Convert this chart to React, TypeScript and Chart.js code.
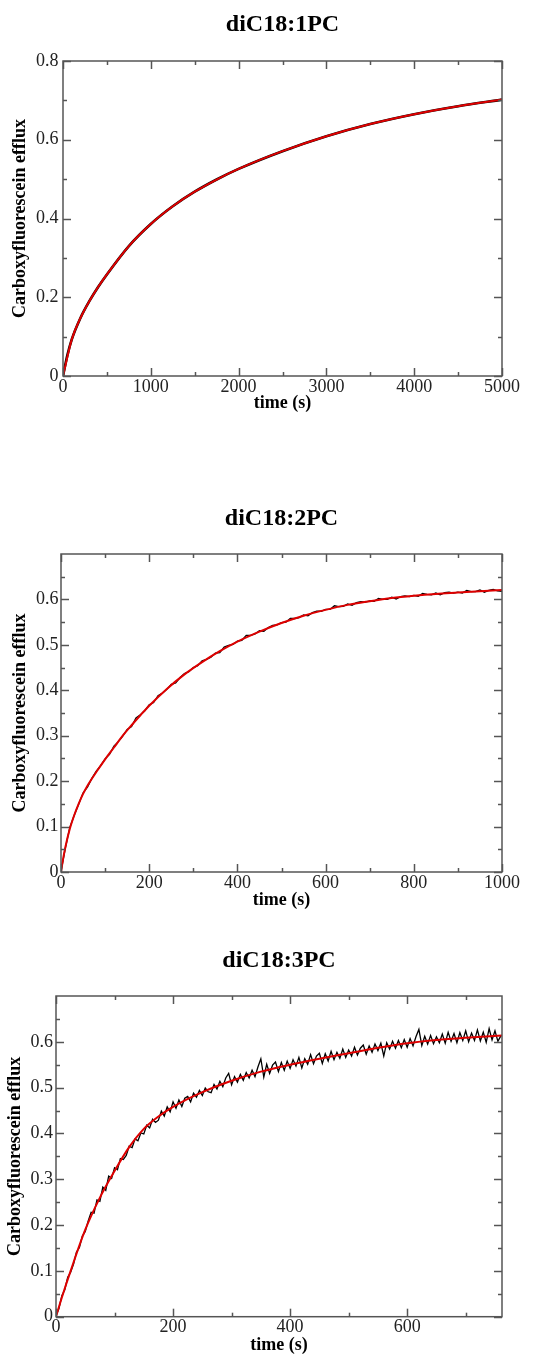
import React, { useEffect, useRef } from 'react';
import { Chart, registerables } from 'chart.js';

Chart.register(...registerables);

// ---------------- data ----------------
// Panel 1: diC18:1PC
const title1 = 'diC18:1PC';
const fitTime1 = [0, 100, 200, 300, 400, 500, 750, 1000, 1250, 1500, 1750, 2000, 2500, 3000, 3500, 4000, 4500, 5000];
const fitValue1 = [0, 0.093, 0.148, 0.19, 0.226, 0.258, 0.33, 0.386, 0.431, 0.468, 0.499, 0.526, 0.571, 0.609, 0.64, 0.665, 0.685, 0.702];
const dataTime1 = [0, 50, 100, 200, 300, 400, 500, 750, 1000, 1250, 1500, 1750, 2000, 2500, 3000, 3500, 4000, 4500, 5000];
const dataValue1 = [0, 0.053, 0.093, 0.148, 0.19, 0.226, 0.258, 0.33, 0.386, 0.431, 0.468, 0.499, 0.526, 0.571, 0.609, 0.64, 0.665, 0.685, 0.702];
const xTicks1 = [0, 1000, 2000, 3000, 4000, 5000];
const xLabels1 = ['0', '1000', '2000', '3000', '4000', '5000'];
const xMinor1 = [500, 1500, 2500, 3500, 4500];
const yTicks1 = [0, 0.2, 0.4, 0.6, 0.8];
const yLabels1 = ['0', '0.2', '0.4', '0.6', '0.8'];
const yMinor1 = [0.1, 0.3, 0.5, 0.7];
const xMax1 = 5000;
const yMax1 = 0.8;

// Panel 2: diC18:2PC
const title2 = 'diC18:2PC';
const fitTime2 = [0, 5, 10, 20, 30, 40, 50, 60, 80, 100, 120, 140, 160, 180, 200, 240, 280, 320, 360, 400, 450, 500, 550, 600, 650, 700, 750, 800, 850, 900, 950, 1000];
const fitValue2 = [0, 0.03, 0.055, 0.095, 0.125, 0.15, 0.172, 0.19, 0.22, 0.248, 0.274, 0.3, 0.323, 0.345, 0.366, 0.403, 0.435, 0.462, 0.486, 0.507, 0.529, 0.548, 0.564, 0.577, 0.588, 0.596, 0.603, 0.608, 0.612, 0.615, 0.618, 0.621];
const dataStep2 = 10; // seconds between samples
const dataValue2 = [
  0.001, 0.053, 0.098, 0.125, 0.149, 0.174, 0.187, 0.206, 0.222, 0.234,
  0.249, 0.259, 0.277, 0.287, 0.299, 0.314, 0.32, 0.339, 0.346, 0.355,
  0.368, 0.373, 0.388, 0.394, 0.402, 0.413, 0.416, 0.428, 0.437, 0.441,
  0.45, 0.454, 0.465, 0.468, 0.473, 0.482, 0.483, 0.495, 0.499, 0.501,
  0.508, 0.51, 0.521, 0.521, 0.524, 0.531, 0.53, 0.538, 0.543, 0.544,
  0.549, 0.55, 0.558, 0.558, 0.56, 0.566, 0.564, 0.571, 0.574, 0.574,
  0.578, 0.578, 0.586, 0.584, 0.585, 0.59, 0.587, 0.593, 0.595, 0.594,
  0.597, 0.596, 0.602, 0.6, 0.6, 0.605, 0.601, 0.606, 0.608, 0.606,
  0.609, 0.607, 0.613, 0.611, 0.61, 0.614, 0.61, 0.615, 0.616, 0.614,
  0.616, 0.614, 0.62, 0.617, 0.617, 0.621, 0.616, 0.62, 0.622, 0.619,
  0.618,
];
const xTicks2 = [0, 200, 400, 600, 800, 1000];
const xLabels2 = ['0', '200', '400', '600', '800', '1000'];
const xMinor2 = [100, 300, 500, 700, 900];
const yTicks2 = [0, 0.1, 0.2, 0.3, 0.4, 0.5, 0.6];
const yLabels2 = ['0', '0.1', '0.2', '0.3', '0.4', '0.5', '0.6'];
const yMinor2 = [0.05, 0.15, 0.25, 0.35, 0.45, 0.55, 0.65];
const xMax2 = 1000;
const yMax2 = 0.7;

// Panel 3: diC18:3PC
const title3 = 'diC18:3PC';
const fitTime3 = [0, 10, 25, 50, 75, 100, 125, 150, 175, 200, 250, 300, 350, 400, 450, 500, 550, 600, 650, 700, 762];
const fitValue3 = [0, 0.042, 0.1, 0.19, 0.26, 0.318, 0.37, 0.41, 0.437, 0.458, 0.49, 0.515, 0.535, 0.55, 0.563, 0.575, 0.587, 0.597, 0.604, 0.609, 0.614];
const dataStep3 = 5; // seconds between samples
const dataValue3 = [
  0.002, 0.018, 0.046, 0.059, 0.086, 0.097, 0.115, 0.141, 0.151, 0.176,
  0.186, 0.209, 0.228, 0.226, 0.255, 0.252, 0.283, 0.276, 0.307, 0.302,
  0.325, 0.321, 0.345, 0.343, 0.352, 0.372, 0.369, 0.388, 0.384, 0.401,
  0.399, 0.418, 0.412, 0.431, 0.424, 0.429, 0.449, 0.438, 0.458, 0.447,
  0.469, 0.455, 0.473, 0.459, 0.477, 0.481, 0.469, 0.488, 0.479, 0.494,
  0.483, 0.499, 0.491, 0.489, 0.507, 0.497, 0.514, 0.502, 0.521, 0.531,
  0.506, 0.524, 0.512, 0.529, 0.516, 0.533, 0.521, 0.538, 0.524, 0.545,
  0.563, 0.523, 0.551, 0.531, 0.549, 0.556, 0.535, 0.555, 0.538, 0.558,
  0.542, 0.561, 0.547, 0.566, 0.543, 0.563, 0.551, 0.572, 0.552, 0.569,
  0.575, 0.553, 0.574, 0.558, 0.579, 0.561, 0.577, 0.564, 0.584, 0.566,
  0.582, 0.569, 0.588, 0.571, 0.586, 0.593, 0.573, 0.591, 0.577, 0.595,
  0.581, 0.597, 0.569, 0.598, 0.584, 0.601, 0.586, 0.603, 0.587, 0.605,
  0.588, 0.607, 0.591, 0.611, 0.627, 0.592, 0.612, 0.595, 0.614, 0.596,
  0.611, 0.598, 0.617, 0.597, 0.621, 0.601, 0.618, 0.598, 0.62, 0.603,
  0.624, 0.6, 0.619, 0.603, 0.626, 0.602, 0.621, 0.599, 0.629, 0.604,
  0.624, 0.601, 0.613,
];
const xTicks3 = [0, 200, 400, 600];
const xLabels3 = ['0', '200', '400', '600'];
const xMinor3 = [100, 300, 500, 700];
const yTicks3 = [0, 0.1, 0.2, 0.3, 0.4, 0.5, 0.6];
const yLabels3 = ['0', '0.1', '0.2', '0.3', '0.4', '0.5', '0.6'];
const yMinor3 = [0.05, 0.15, 0.25, 0.35, 0.45, 0.55, 0.65];
const xMax3 = 762;
const yMax3 = 0.7;

const xAxisTitle = 'time (s)';
const yAxisTitle = 'Carboxyfluorescein efflux';

// ---------------- styling ----------------
const SERIF = "'Liberation Serif', 'Times New Roman', Times, serif";
const RED = 'rgb(222, 0, 0)';
const FRAME = '#555555';
const TEXT = '#222222';

const framePlugin: any = {
  id: 'frameTicks',
  afterDraw(chart: any, _args: any, opts: any) {
    const { ctx, chartArea: a, scales } = chart;
    const xs = scales.x;
    const ys = scales.y;
    const major = 8;
    const minor = 4;
    ctx.save();
    ctx.strokeStyle = FRAME;
    ctx.lineWidth = 1.5;
    ctx.strokeRect(a.left, a.top, a.right - a.left, a.bottom - a.top);
    const seg = (x1: number, y1: number, x2: number, y2: number) => {
      ctx.beginPath();
      ctx.moveTo(x1, y1);
      ctx.lineTo(x2, y2);
      ctx.stroke();
    };
    const xt = (v: number, len: number) => {
      const p = Math.round(xs.getPixelForValue(v)) + 0.5;
      seg(p, a.bottom, p, a.bottom - len);
      seg(p, a.top, p, a.top + len);
    };
    const yt = (v: number, len: number) => {
      const p = Math.round(ys.getPixelForValue(v)) + 0.5;
      seg(a.left, p, a.left + len, p);
      seg(a.right, p, a.right - len, p);
    };
    xs.ticks.forEach((t: any) => xt(t.value, major));
    ys.ticks.forEach((t: any) => yt(t.value, major));
    (opts.xMinor || []).forEach((v: number) => xt(v, minor));
    (opts.yMinor || []).forEach((v: number) => yt(v, minor));
    ctx.restore();
  },
};

type Spec = {
  title: string;
  fitTime: number[];
  fitValue: number[];
  dataPoints: { x: number; y: number }[];
  dataSmooth: boolean;
  xTicks: number[];
  xLabels: string[];
  xMinor: number[];
  yTicks: number[];
  yLabels: string[];
  yMinor: number[];
  xMax: number;
  yMax: number;
  top: number;
  height: number;
  titleTop: number;
  titleBottom: number;
  yAxisWidth: number;
  xAxisHeight: number;
  yTickPad: number;
  xTickPad: number;
  yTitlePad: number;
  xTitlePad: number;
  dataWidth: number;
};

const panels: Spec[] = [
  {
    title: title1,
    fitTime: fitTime1,
    fitValue: fitValue1,
    dataPoints: dataTime1.map((t, i) => ({ x: t, y: dataValue1[i] })),
    dataSmooth: true,
    xTicks: xTicks1, xLabels: xLabels1, xMinor: xMinor1,
    yTicks: yTicks1, yLabels: yLabels1, yMinor: yMinor1,
    xMax: xMax1, yMax: yMax1,
    top: 0, height: 440,
    titleTop: 10.6, titleBottom: 21.6,
    yAxisWidth: 63, xAxisHeight: 64,
    yTickPad: 4.5, xTickPad: 0.7,
    yTitlePad: 10, xTitlePad: 25.6,
    dataWidth: 2.6,
  },
  {
    title: title2,
    fitTime: fitTime2,
    fitValue: fitValue2,
    dataPoints: dataValue2.map((v, i) => ({ x: i * dataStep2, y: v })),
    dataSmooth: false,
    xTicks: xTicks2, xLabels: xLabels2, xMinor: xMinor2,
    yTicks: yTicks2, yLabels: yLabels2, yMinor: yMinor2,
    xMax: xMax2, yMax: yMax2,
    top: 440, height: 480,
    titleTop: 64.6, titleBottom: 20.6,
    yAxisWidth: 61, xAxisHeight: 48,
    yTickPad: 2.5, xTickPad: 0,
    yTitlePad: 9.2, xTitlePad: 8.6,
    dataWidth: 1.3,
  },
  {
    title: title3,
    fitTime: fitTime3,
    fitValue: fitValue3,
    dataPoints: dataValue3.map((v, i) => ({ x: i * dataStep3, y: v })),
    dataSmooth: false,
    xTicks: xTicks3, xLabels: xLabels3, xMinor: xMinor3,
    yTicks: yTicks3, yLabels: yLabels3, yMinor: yMinor3,
    xMax: xMax3, yMax: yMax3,
    top: 920, height: 436,
    titleTop: 26.6, titleBottom: 20.6,
    yAxisWidth: 56, xAxisHeight: 39.3,
    yTickPad: 3, xTickPad: 0,
    yTitlePad: 4.7, xTitlePad: 0.2,
    dataWidth: 1.3,
  },
];

function Panel({ spec }: { spec: Spec }) {
  const ref = useRef<HTMLCanvasElement | null>(null);
  useEffect(() => {
    if (!ref.current) return;
    const s = spec;
    const chart = new Chart(ref.current, {
      type: 'line',
      data: {
        datasets: [
          {
            label: 'fit',
            data: s.fitTime.map((t, i) => ({ x: t, y: s.fitValue[i] })),
            borderColor: RED,
            borderWidth: 2,
            pointRadius: 0,
            cubicInterpolationMode: 'monotone',
            fill: false,
          },
          {
            label: 'data',
            data: s.dataPoints,
            borderColor: '#000000',
            borderWidth: s.dataWidth,
            pointRadius: 0,
            cubicInterpolationMode: s.dataSmooth ? 'monotone' : 'default',
            tension: 0,
            fill: false,
          },
        ],
      },
      options: {
        responsive: false,
        animation: false,
        events: [],
        layout: { padding: { left: 0, right: 38, top: 0, bottom: 0 } },
        plugins: {
          legend: { display: false },
          tooltip: { enabled: false },
          title: {
            display: true,
            text: s.title,
            fullSize: false,
            color: '#000000',
            font: { family: SERIF, size: 24, weight: 'bold', lineHeight: 1.2 },
            padding: { top: s.titleTop, bottom: s.titleBottom },
          },
          frameTicks: { xMinor: s.xMinor, yMinor: s.yMinor },
        } as any,
        scales: {
          x: {
            type: 'linear',
            min: 0,
            max: s.xMax,
            grid: { display: false, drawTicks: false },
            border: { display: false },
            afterBuildTicks: (sc: any) => {
              sc.ticks = s.xTicks.map((v) => ({ value: v }));
            },
            afterFit: (sc: any) => {
              sc.height = s.xAxisHeight;
            },
            ticks: {
              padding: s.xTickPad,
              maxRotation: 0,
              autoSkip: false,
              color: TEXT,
              font: { family: SERIF, size: 18 },
              callback: (_v: any, i: number) => s.xLabels[i],
            },
            title: {
              display: true,
              text: xAxisTitle,
              color: '#000000',
              font: { family: SERIF, size: 18, weight: 'bold', lineHeight: 1.2 },
              padding: { top: 0, bottom: s.xTitlePad },
            },
          },
          y: {
            type: 'linear',
            min: 0,
            max: s.yMax,
            grid: { display: false, drawTicks: false },
            border: { display: false },
            afterBuildTicks: (sc: any) => {
              sc.ticks = s.yTicks.map((v) => ({ value: v }));
            },
            afterFit: (sc: any) => {
              sc.width = s.yAxisWidth;
            },
            ticks: {
              padding: s.yTickPad,
              autoSkip: false,
              color: TEXT,
              font: { family: SERIF, size: 18 },
              callback: (_v: any, i: number) => s.yLabels[i],
            },
            title: {
              display: true,
              text: yAxisTitle,
              color: '#000000',
              font: { family: SERIF, size: 18, weight: 'bold', lineHeight: 1.2 },
              padding: { top: s.yTitlePad, bottom: 0 },
            },
          },
        },
      } as any,
      plugins: [framePlugin],
    } as any);
    return () => chart.destroy();
  }, [spec]);
  return (
    <div style={{ position: 'absolute', left: 0, top: spec.top, width: 540, height: spec.height }}>
      <canvas ref={ref} width={540} height={spec.height} style={{ display: 'block', width: 540, height: spec.height }} />
    </div>
  );
}

export default function App() {
  return (
    <div style={{ position: 'absolute', left: 0, top: 0, width: 540, height: 1356, background: '#ffffff' }}>
      {panels.map((p) => (
        <Panel key={p.title} spec={p} />
      ))}
    </div>
  );
}
